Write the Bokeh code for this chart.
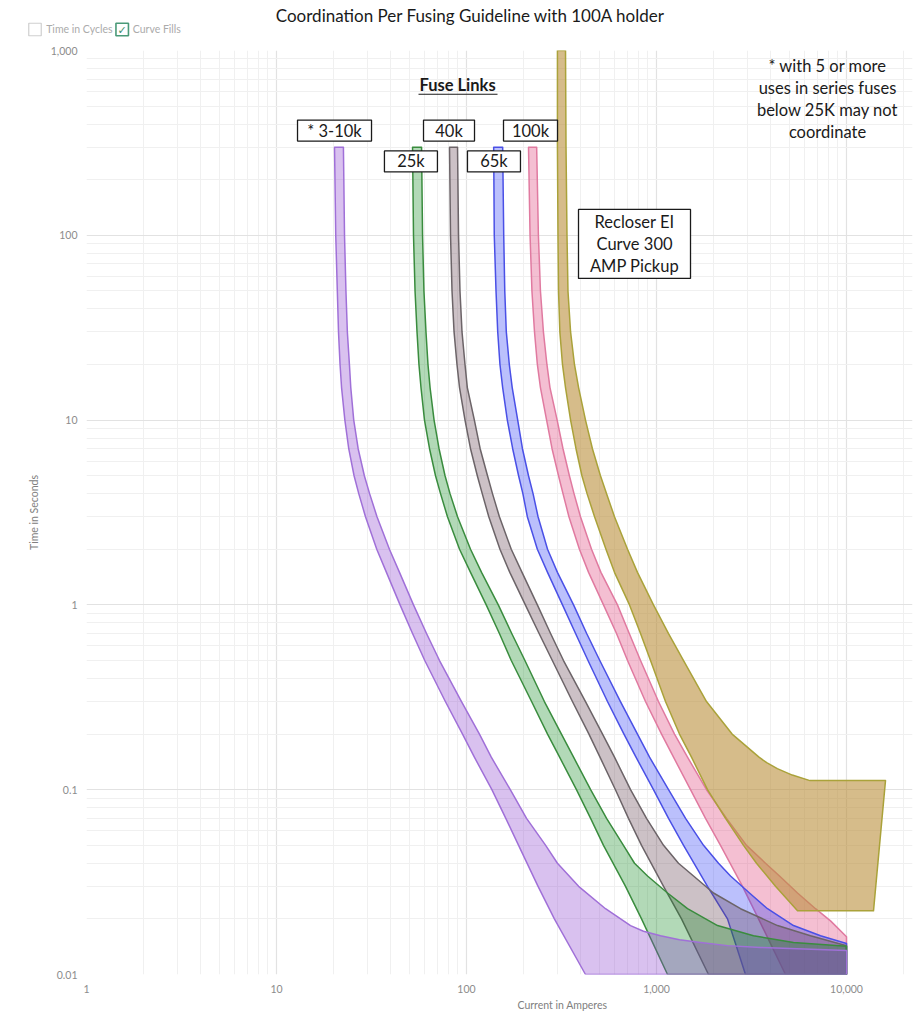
from bokeh.plotting import figure
from bokeh.layouts import column
from bokeh.models import FixedTicker, Title, Range1d, Div
from bokeh.core.properties import value
from bokeh.embed import file_html
from bokeh.resources import INLINE

# ---------------- data (current in A, time in s) ----------------
x_ticks = [1, 10, 100, 1000, 10000]
x_tick_labels = ["1", "10", "100", "1,000", "10,000"]
y_ticks = [0.01, 0.1, 1, 10, 100, 1000]
y_tick_labels = ["0.01", "0.1", "1", "10", "100", "1,000"]
minor_mantissas = [2, 3, 4, 5, 6, 7, 8, 9]

fuse_names = ["* 3-10k", "25k", "40k", "65k", "100k"]

# common time points of the upper curve parts
band_secs = [300, 100, 50, 30, 20, 15, 10, 7, 5, 4, 3, 2, 1.5, 1, 0.7, 0.5, 0.3, 0.2, 0.15, 0.1]
mm_low_secs = [0.07, 0.05, 0.03, 0.02, 0.01]

k10_mm_amps = [20.2, 20.5, 20.9, 21.2, 21.6, 22.0, 22.9, 24.0, 25.6, 27.1, 29.4, 33.7, 37.9, 44.7, 52.0,
               60.3, 77.4, 95.3, 110, 136, 161, 188, 238, 290, 423]
k10_mm_secs = band_secs + mm_low_secs
k10_tc_amps = [22.5, 22.8, 23.2, 23.6, 24.2, 24.6, 25.5, 26.9, 29.0, 30.9, 33.8, 39.3, 44.4, 52.6, 61.6,
               72.1, 94.1, 117, 135, 170, 207, 261, 301, 389, 539, 730, 854, 1050, 1321, 1705, 2364,
               3527, 10000]
k10_tc_secs = band_secs + [0.07, 0.05, 0.04, 0.03, 0.0227, 0.0184, 0.01714, 0.0162, 0.01543, 0.0149,
                           0.01433, 0.0140, 0.0135]

k25_mm_amps = [52.0, 52.6, 53.6, 54.9, 56.2, 57.6, 60.1, 63.9, 68.7, 73.0, 79.4, 91.9, 105, 127, 149,
               172, 220, 267, 309, 379, 450, 526, 687, 834, 1143]
k25_mm_secs = band_secs + mm_low_secs
k25_tc_amps = [58.0, 58.7, 59.7, 61.2, 62.7, 64.3, 67.5, 71.7, 77.1, 81.9, 89.7, 105, 120, 147, 173,
               203, 257, 316, 366, 450, 546, 670, 766, 897, 1143, 1456, 2095, 3240, 5260, 10000]
k25_tc_secs = band_secs + [0.07, 0.05, 0.04, 0.0341, 0.0276, 0.0227, 0.0184, 0.0162, 0.0149, 0.0142]

k40_mm_amps = [81.4, 82.4, 83.9, 86.0, 89.1, 91.9, 98.2, 105, 114, 121, 131, 150, 169, 204, 241,
               283, 361, 441, 504, 608, 712, 834, 1089, 1354, 1878]
k40_mm_secs = band_secs + mm_low_secs
k40_tc_amps = [89.7, 90.8, 92.4, 94.7, 98.2, 101, 110, 118, 129, 137, 149, 172, 196, 236, 277,
               324, 423, 520, 601, 730, 886, 1089, 1305, 1566, 1995, 2768, 4333, 6463, 10000]
k40_tc_secs = band_secs + [0.07, 0.05, 0.04, 0.0341, 0.0276, 0.0227, 0.0184, 0.0162, 0.0143]

k65_mm_amps = [139, 140, 143, 146, 150, 155, 164, 175, 188, 198, 209, 236, 267, 320, 375,
               436, 552, 674, 780, 964, 1157, 1388, 1855, 2364, 2940]
k65_mm_secs = band_secs + mm_low_secs
k65_tc_amps = [155, 157, 159, 162, 168, 174, 186, 197, 212, 224, 238, 267, 301, 366, 429,
               503, 646, 794, 919, 1157, 1422, 1768, 2120, 2452, 3086, 3839, 5260, 7298, 10000]
k65_tc_secs = band_secs + [0.07, 0.05, 0.04, 0.0341, 0.0276, 0.0227, 0.0184, 0.0162, 0.0147]

k100_mm_amps = [212, 216, 221, 228, 236, 245, 264, 282, 305, 322, 346, 393, 439, 526, 616,
                704, 875, 1063, 1229, 1510, 1811, 2172, 2836, 3443, 4775]
k100_mm_secs = band_secs + mm_low_secs
k100_tc_amps = [234, 239, 245, 254, 265, 275, 300, 322, 348, 368, 398, 455, 510, 623, 719,
                824, 1024, 1244, 1456, 1833, 2336, 2977, 3747, 4440, 5523, 6868, 8238, 10000]
k100_tc_secs = band_secs + [0.07, 0.05, 0.04, 0.0341, 0.0276, 0.0227, 0.0195, 0.016]

recl_fast_amps = [301, 301, 303, 305, 310, 320, 332, 353, 377, 405, 431, 472, 542, 601, 721,
                  824, 930, 1115, 1321, 1528, 1855, 2308, 2870, 3360, 4229, 5523]
recl_fast_secs = [1000] + band_secs + [0.07, 0.05, 0.04, 0.03, 0.0221]
recl_slow_amps = [332, 334, 338, 342, 353, 370, 389, 423, 460, 507, 546, 601, 704, 794, 964,
                  1157, 1388, 1833, 2500, 3463, 3802, 4323, 5184, 6424, 16040, 13870]
recl_slow_secs = [1000, 300, 100, 50, 30, 20, 15, 10, 7, 5, 4, 3, 2, 1.5, 1, 0.7, 0.5, 0.3, 0.2,
                  0.15, 0.14, 0.13, 0.12, 0.112, 0.112, 0.0221]

title_text = "Coordination Per Fusing Guideline with 100A holder"
checkbox_labels = ["Time in Cycles", "Curve Fills"]
x_label_text = "Current in Amperes"
y_label_text = "Time in Seconds"
note_text = "* with 5 or more\nuses in series fuses\nbelow 25K may not\ncoordinate"
recloser_text = "Recloser EI\nCurve 300\nAMP Pickup"
fuse_header = "Fuse Links"

FONT = "Lato"
HEADER_H = 42

# ---------------- header strip (title + option checkboxes) ----------------
h = figure(width=920, height=HEADER_H, x_range=Range1d(0, 920), y_range=Range1d(HEADER_H, 0),
           output_backend="svg", toolbar_location=None, min_border=0)
h.axis.visible = False
h.grid.visible = False
h.outline_line_color = None
h.text(x=[470], y=[15], text=[title_text], text_font=value(FONT), text_font_size="17px",
       text_align="center", text_baseline="middle", text_color="#1a1a1a")
h.rect(x=[34.5], y=[29], width=12.5, height=12.5, fill_color="white",
       line_color="#cfcfcf", line_width=1.2)
h.rect(x=[121.7], y=[29], width=12.5, height=12.5, fill_color="white",
       line_color="#4a9a78", line_width=1.6)
h.text(x=[121.7], y=[29.5], text=["\u2713"], text_font=value("DejaVu Sans"), text_font_size="11px",
       text_font_style="bold", text_align="center", text_baseline="middle", text_color="#3f8f6e")
h.text(x=[45.7, 132.3], y=[28.5, 28.5], text=checkbox_labels, text_font=value(FONT),
       text_font_size="10.5px", text_align="left", text_baseline="middle", text_color="#ababab")

# ---------------- main chart ----------------
p = figure(width=920, height=1012 - HEADER_H, x_axis_type="log", y_axis_type="log",
           x_range=(1, 22250), y_range=(0.01, 1000),
           output_backend="svg", toolbar_location=None, title=None,
           min_border_left=86, min_border_right=8, min_border_top=8, min_border_bottom=33)
p.outline_line_color = None
p.background_fill_color = "white"

x_minor = [m * 10.0 ** e for e in range(0, 5) for m in minor_mantissas if m * 10.0 ** e < 22250]
y_minor = [m * 10.0 ** e for e in range(-2, 3) for m in minor_mantissas]
p.xaxis.ticker = FixedTicker(ticks=x_ticks, minor_ticks=x_minor)
p.yaxis.ticker = FixedTicker(ticks=y_ticks, minor_ticks=y_minor)
p.xaxis.major_label_overrides = dict(zip(x_ticks, x_tick_labels))
p.yaxis.major_label_overrides = dict(zip(y_ticks, y_tick_labels))

for ax in (p.xaxis[0], p.yaxis[0]):
    ax.axis_line_color = None
    ax.major_tick_line_color = None
    ax.minor_tick_line_color = None
    ax.major_label_text_font = FONT
    ax.major_label_text_font_size = "10.5px"
    ax.major_label_text_color = "#8c8c8c"
p.yaxis.major_label_standoff = 3
p.xaxis.major_label_standoff = 4
p.yaxis.axis_label = y_label_text
p.yaxis.axis_label_text_font = FONT
p.yaxis.axis_label_text_font_style = "normal"
p.yaxis.axis_label_text_font_size = "10.5px"
p.yaxis.axis_label_text_color = "#808080"
p.yaxis.axis_label_standoff = 8

for g in (p.xgrid[0], p.ygrid[0]):
    g.grid_line_color = "#e2e2e2"
    g.grid_line_width = 1.2
    g.minor_grid_line_color = "#f0f0f0"
    g.minor_grid_line_width = 1

p.add_layout(Title(text=x_label_text, align="left", offset=431, standoff=3,
                   text_font=FONT, text_font_size="10.5px", text_font_style="normal",
                   text_color="#808080"), "below")

# ---------------- bands ----------------
fuses = [
    (k100_mm_amps, k100_mm_secs, k100_tc_amps, k100_tc_secs, "#e07aa0", "#de3773"),
    (k65_mm_amps, k65_mm_secs, k65_tc_amps, k65_tc_secs, "#4a50e6", "#2d3af5"),
    (k40_mm_amps, k40_mm_secs, k40_tc_amps, k40_tc_secs, "#6c6468", "#5f3e4e"),
    (k25_mm_amps, k25_mm_secs, k25_tc_amps, k25_tc_secs, "#3a8c3e", "#108a20"),
    (k10_mm_amps, k10_mm_secs, k10_tc_amps, k10_tc_secs, "#a070d8", "#8a3ecd"),
]
for mm_a, mm_s, tc_a, tc_s, lc, fc in fuses:
    xs = mm_a + [tc_a[-1]] + tc_a[::-1]
    ys = mm_s + [mm_s[-1]] + tc_s[::-1]
    p.patch(xs, ys, fill_color=fc, fill_alpha=0.32, line_color=lc, line_width=1.5,
            line_join="round")

p.patch(recl_fast_amps + recl_slow_amps[::-1], recl_fast_secs + recl_slow_secs[::-1],
        fill_color="#bb8f3c", fill_alpha=0.6, line_color="#aaa23a", line_width=1.5,
        line_join="round")

# ---------------- annotations ----------------
ann_font = value(FONT)
box_x = [20.2, 51.0, 80.9, 139.5, 217.2]
box_y = [368.7, 251.2, 368.7, 251.2, 368.7]
box_w = [74, 53, 51, 53, 54]
p.rect(x=box_x, y=box_y, width=box_w, height=21, width_units="screen", height_units="screen",
       fill_color="white", line_color="#1a1a1a", line_width=1.3)
p.text(x=box_x, y=box_y, text=fuse_names, text_font=ann_font, text_font_size="16.5px",
       text_align="center", text_baseline="middle", text_color="#1a1a1a")

p.rect(x=[766], y=[89.8], width=112, height=69, width_units="screen", height_units="screen",
       fill_color="white", line_color="#1a1a1a", line_width=1.3)
p.text(x=[766], y=[89.8], text=[recloser_text], text_font=ann_font, text_font_size="16.5px",
       text_align="center", text_baseline="middle", text_color="#1a1a1a", text_line_height=1.1)

p.text(x=[7943], y=[544.9], text=[note_text], text_font=ann_font, text_font_size="16.5px",
       text_align="center", text_baseline="middle", text_color="#1a1a1a", text_line_height=1.1)

p.text(x=[89.7], y=[647.9], text=[fuse_header], text_font=ann_font, text_font_size="16.5px",
       text_font_style="bold", text_align="center", text_baseline="middle", text_color="#1a1a1a")
p.segment(x0=[55.9], y0=[579.8], x1=[145.6], y1=[579.8], line_color="#1a1a1a", line_width=1.2)

# keep the header's own coordinate frame (do not align it with the chart frame)
if "frame_align" in h.properties():
    h.frame_align = False
    p.frame_align = False
    header = h
else:
    header = Div(width=920, height=HEADER_H, text=(
        '<div style="position:relative;width:920px;height:42px;font-family:Lato,sans-serif">'
        '<div style="position:absolute;left:170px;width:600px;top:4px;text-align:center;'
        'font-size:17px;color:#1a1a1a">' + title_text + '</div>'
        '<div style="position:absolute;left:28px;top:23px;width:11px;height:11px;'
        'border:1px solid #cfcfcf;border-radius:2px"></div>'
        '<div style="position:absolute;left:45px;top:22px;font-size:10.5px;color:#ababab">'
        + checkbox_labels[0] + '</div>'
        '<div style="position:absolute;left:115px;top:23px;width:11px;height:11px;'
        'border:1.5px solid #4a9a78;border-radius:2px;color:#3f8f6e;font-size:10px;'
        'line-height:11px;text-align:center">&#10003;</div>'
        '<div style="position:absolute;left:132px;top:22px;font-size:10.5px;color:#ababab">'
        + checkbox_labels[1] + '</div></div>'))

layout = column(header, p, spacing=0)
open("out.html", "w").write(file_html(layout, INLINE))
